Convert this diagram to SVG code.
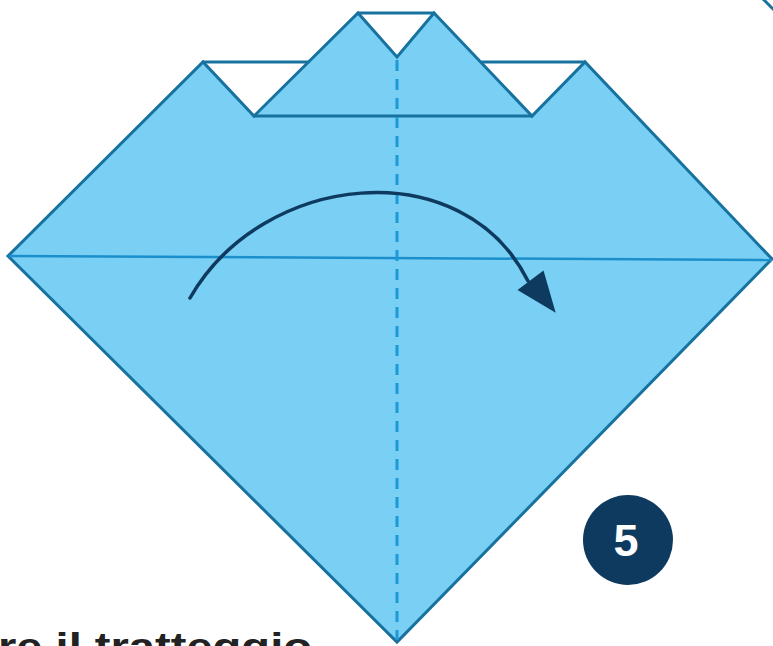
<svg xmlns="http://www.w3.org/2000/svg" width="773" height="646" viewBox="0 0 773 646">
  <style>
    .paper { fill: #79cff4; stroke: #17729f; stroke-width: 3; stroke-linejoin: miter; }
    .edge { fill: none; stroke: #17729f; stroke-width: 3; stroke-linecap: round; }
    .crease { fill: none; stroke: #1b8fcc; stroke-width: 2.5; }
    .fold { fill: none; stroke: #1c9ad8; stroke-width: 3; stroke-dasharray: 11 8; }
    .arrow { fill: none; stroke: #0e3a5f; stroke-width: 3.5; stroke-linecap: round; }
  </style>
  <rect width="773" height="646" fill="#ffffff"/>
  <g id="paper">
    <polygon class="paper" points="8,256 203,62 254,116 358,13 397,57 434,13 532,116 585,62 772,259 397,642"/>
    <line class="edge" x1="203" y1="62" x2="308" y2="62"/>
    <line class="edge" x1="358" y1="13" x2="434" y2="13"/>
    <line class="edge" x1="482" y1="62" x2="585" y2="62"/>
    <line class="edge" x1="254" y1="116" x2="532" y2="116"/>
    <line class="crease" x1="9" y1="256" x2="772" y2="260"/>
    <line class="fold" x1="397" y1="60" x2="397" y2="640"/>
  </g>
  <g id="corner-piece">
    <line class="edge" x1="761" y1="-3" x2="775" y2="11"/>
  </g>
  <g id="connectors">
    <path class="arrow" d="M190,298 C262,172 462,150 528,281"/>
    <polygon points="517.5,290 543.5,270.5 555.7,312.7" fill="#0e3a5f"/>
  </g>
  <g id="step-badge">
    <circle cx="628" cy="540" r="45" fill="#0e3a5f"/>
    <text x="626" y="556" text-anchor="middle" font-family="Liberation Sans, Arial, sans-serif" font-weight="bold" font-size="45" fill="#ffffff">5</text>
  </g>
  <g id="caption">
    <text x="-2" y="660" font-family="Liberation Sans, Arial, sans-serif" font-weight="bold" font-size="38" fill="#222222" textLength="314" lengthAdjust="spacingAndGlyphs">re il tratteggio</text>
  </g>
</svg>
